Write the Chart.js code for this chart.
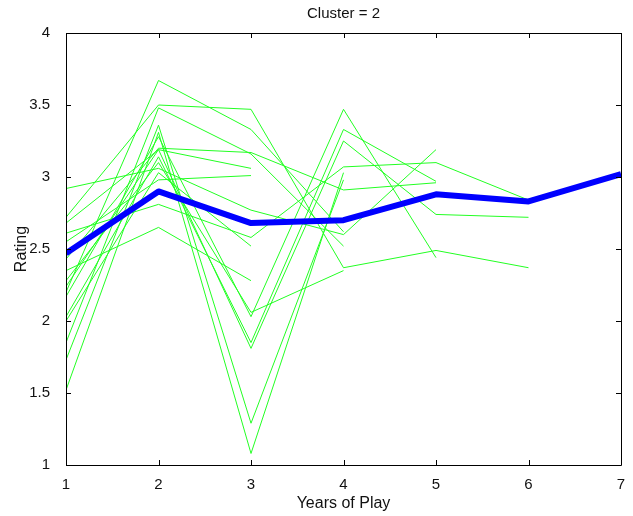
<!DOCTYPE html>
<html>
<head>
<meta charset="utf-8">
<script src="https://cdn.jsdelivr.net/npm/chart.js@4"></script>
<style>
  html, body { margin: 0; padding: 0; background: #fff; }
  #wrap { width: 633px; height: 516px; }
</style>
</head>
<body>
<div id="wrap"><canvas id="myChart" width="633" height="516"></canvas></div>
<script>
// years on the x axis
const years = [1, 2, 3, 4, 5, 6, 7]
const yTicks = [1, 1.5, 2, 2.5, 3, 3.5, 4]

// cluster mean (blue)
const clusterMean = [2.47, 2.90, 2.68, 2.70, 2.88, 2.83, 3.02]

// individual players in the cluster (green), null = no season
const playerA = [2.92, 3.06, 2.77, 2.60, 3.19, null, null]
const playerB = [2.72, 3.50, 3.47, 2.37, 2.49, 2.37, null]
const playerC = [2.20, 3.67, 3.33, 2.62, null, null, null]
const playerD = [2.35, 2.65, 2.28, null, null, null, null]
const playerE = [2.61, 2.81, 2.58, 3.07, 3.10, 2.84, null]
const playerF = [1.52, 3.31, 1.08, 3.03, null, null, null]
const playerG = [1.73, 3.36, 1.29, 2.98, null, null, null]
const playerH = [2.17, 3.28, 2.03, 3.47, 2.44, null, null]
const playerI = [2.03, 3.14, 1.85, 3.33, 2.97, null, null]
const playerJ = [2.24, 3.19, 1.81, 3.25, 2.74, 2.72, null]
const playerK = [1.85, 3.48, 3.16, 2.52, null, null, null]
const playerL = [2.28, 3.10, 2.06, 2.35, null, null, null]
const playerM = [2.68, 3.19, 3.06, null, null, null, null]
const playerN = [2.55, 2.98, 3.01, null, null, null, null]
const playerO = [2.00, 3.03, 2.52, null, null, null, null]
const playerP = [2.43, 3.20, 3.17, 2.91, 2.96, null, null]

const players = [playerA, playerB, playerC, playerD, playerE, playerF, playerG, playerH,
                 playerI, playerJ, playerK, playerL, playerM, playerN, playerO, playerP]

function toPoints(values) {
    return years.map((x, i) => ({ x: x, y: values[i] })).filter(p => p.y !== null)
}

// MATLAB style box with inward ticks
const boxPlugin = {
    id: 'box',
    afterDraw(chart) {
        const ctx = chart.ctx
        const a = chart.chartArea
        const xs = chart.scales.x
        const ys = chart.scales.y
        ctx.save()
        ctx.strokeStyle = '#000'
        ctx.lineWidth = 1
        ctx.beginPath()
        ctx.rect(Math.round(a.left) + 0.5, Math.round(a.top) + 0.5,
                 Math.round(a.right - a.left), Math.round(a.bottom - a.top))
        const len = 5
        years.forEach(v => {
            const px = Math.round(xs.getPixelForValue(v)) + 0.5
            ctx.moveTo(px, a.bottom); ctx.lineTo(px, a.bottom - len)
            ctx.moveTo(px, a.top); ctx.lineTo(px, a.top + len)
        })
        yTicks.forEach(v => {
            const py = Math.round(ys.getPixelForValue(v)) + 0.5
            ctx.moveTo(a.left, py); ctx.lineTo(a.left + len, py)
            ctx.moveTo(a.right, py); ctx.lineTo(a.right - len, py)
        })
        ctx.stroke()
        ctx.fillStyle = '#111'
        ctx.font = '15px "Liberation Sans", Arial, sans-serif'
        ctx.textAlign = 'center'
        ctx.textBaseline = 'middle'
        ctx.fillText('Cluster = 2', (a.left + a.right) / 2, 14)
        ctx.restore()
    }
}

function render_chart() {
    const datasets = [
        {
            label: 'Mean',
            data: toPoints(clusterMean),
            borderColor: '#0000ff',
            borderWidth: 6,
            pointRadius: 0,
            borderJoinStyle: 'round',
        },
    ]
    players.forEach((p, i) => {
        datasets.push({
            label: 'Player ' + (i + 1),
            data: toPoints(p),
            borderColor: '#22ff22',
            borderWidth: 1,
            pointRadius: 0,
        })
    })
    const tickFont = { family: '"Liberation Sans", Arial, sans-serif', size: 15 }
    const titleFont = { family: '"Liberation Sans", Arial, sans-serif', size: 16 }
    const config = {
        type: 'line',
        data: { datasets: datasets },
        options: {
            responsive: false,
            animation: false,
            layout: { padding: { top: 33, right: 12, left: 0, bottom: 0 } },
            plugins: {
                legend: { display: false },
                tooltip: { enabled: false },
                title: { display: false },
            },
            scales: {
                x: {
                    type: 'linear',
                    min: 1,
                    max: 7,
                    grid: { display: false },
                    border: { display: false },
                    ticks: { stepSize: 1, color: '#111', font: tickFont, padding: 3, maxRotation: 0 },
                    title: { display: true, text: 'Years of Play', color: '#111', font: titleFont, padding: { bottom: 3, top: 0 } },
                    afterFit(scale) { scale.height = 51 },
                },
                y: {
                    type: 'linear',
                    min: 1,
                    max: 4,
                    grid: { display: false },
                    border: { display: false },
                    ticks: {
                        stepSize: 0.5, color: '#111', font: tickFont, padding: 8,
                        callback: v => String(v),
                    },
                    title: { display: true, text: 'Rating', color: '#111', font: titleFont, padding: { top: 12, bottom: 0 } },
                    afterFit(scale) { scale.width = 66 },
                },
            },
        },
        plugins: [boxPlugin],
    }
    const myChart = new Chart(document.getElementById('myChart'), config)
}
document.addEventListener('DOMContentLoaded', render_chart)
</script>
</body>
</html>
